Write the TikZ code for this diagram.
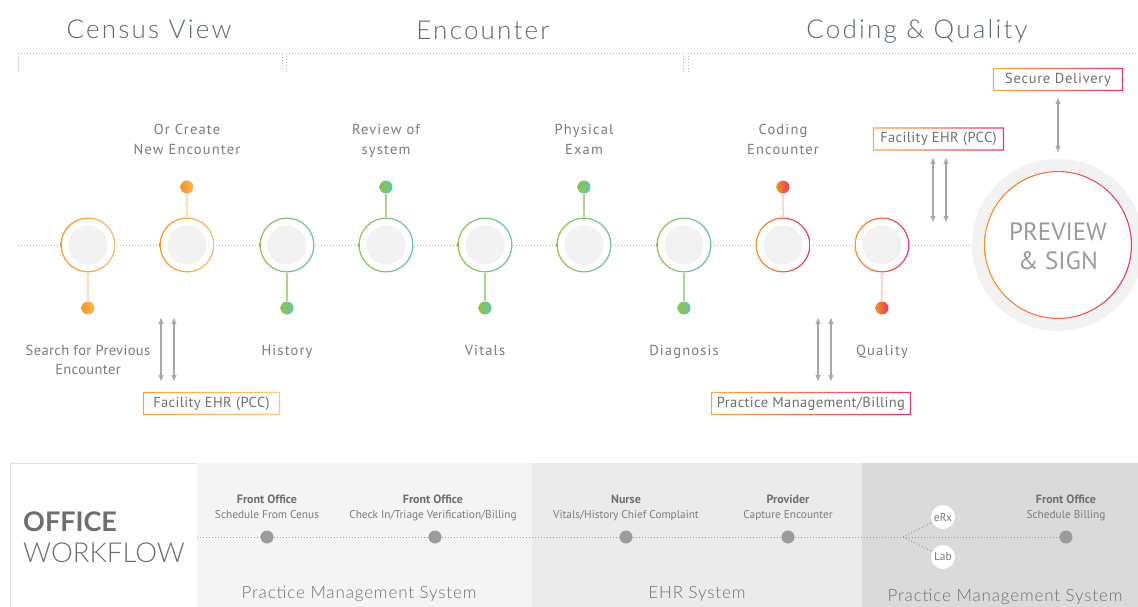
\documentclass[tikz,border=0pt]{standalone}
\usepackage{fontspec}
\setmainfont{PT Sans}
\newfontfamily\lightfont{Lato Light}
\newfontfamily\headfont{Lato Light}[LetterSpace=8.5]
\newfontfamily\sysfont{Lato Light}[LetterSpace=5]
\newfontfamily\boldhead{Lato Bold}
\newfontfamily\lblfont{PT Sans}[LetterSpace=8]
\newfontfamily\lblfontb{PT Sans}[LetterSpace=2.5]
\newfontfamily\boxfont{PT Sans}[LetterSpace=5]
\newfontfamily\boxfontn{PT Sans}[LetterSpace=2.5]
\usetikzlibrary{arrows.meta}
\definecolor{orA}{HTML}{F7941D}
\definecolor{orL}{HTML}{FBB866}
\definecolor{grA}{HTML}{8CC63F}
\definecolor{grB}{HTML}{62C3B4}
\definecolor{pkB}{HTML}{E8336B}
\definecolor{stemO}{HTML}{FCDDB8}
\definecolor{stemG}{HTML}{A8D68A}
\definecolor{stemP}{HTML}{FBD9C6}
\definecolor{txtc}{HTML}{7B7B7B}
\definecolor{headc}{HTML}{5A6A72}
\definecolor{dotc}{HTML}{B4B4B4}
\definecolor{innerc}{HTML}{F2F2F2}
\definecolor{arrc}{HTML}{A8A8A8}
\definecolor{boxtxt}{HTML}{6F6F6F}
\definecolor{pan2}{HTML}{F4F4F4}
\definecolor{pan3}{HTML}{EBEBEB}
\definecolor{pan4}{HTML}{DADADA}
\definecolor{gdot}{HTML}{9B9B9B}
\definecolor{wf}{HTML}{6E6E6E}
\begin{document}
\begin{tikzpicture}[x=1pt,y=-1pt,
  lbl/.style={text=txtc, font=\lblfont\fontsize{14.5}{19}\selectfont, inner sep=0, anchor=base},
  head/.style={text=headc, font=\headfont\fontsize{26}{30}\selectfont, inner sep=0, anchor=base},
  dline/.style={draw=dotc, line width=1pt, dash pattern=on 1pt off 2pt},
  stepnode/.style={circle, minimum size=55pt, inner sep=0, fill=white},
  dotnode/.style={circle, minimum size=13pt, inner sep=0},
  stemline/.style={line width=2pt},
  biarrow/.style={draw=arrc, line width=1.3pt, {Latex[length=7pt,width=5.5pt]}-{Latex[length=7pt,width=5.5pt]}},
  boxnode/.style={minimum height=23pt, inner sep=0, text=boxtxt, font=\boxfont\fontsize{14.5}{16}\selectfont},
  wfbold/.style={text=wf, font=\bfseries\fontsize{12}{13}\selectfont, inner sep=0, anchor=base},
  wfreg/.style={text=txtc, font=\fontsize{11.3}{13}\selectfont, inner sep=0, anchor=base},
  sysl/.style={text=wf, font=\sysfont\fontsize{17}{20}\selectfont, inner sep=0, anchor=base},
  gdotnode/.style={circle, fill=gdot, minimum size=13pt, inner sep=0},
  smallc/.style={circle, fill=white, minimum size=24pt, inner sep=0, text=txtc, font=\fontsize{11.5}{13}\selectfont}
]
\useasboundingbox (0,0) rectangle (1138,607);
\fill[white] (0,0) rectangle (1138,607);

% headings
\node[head] (h1) at (149,38.5) {Census View};
\node[head] (h2) at (483,39.5) {Encounter};
\node[head] (h3) at (917,38.5) {Coding \& Quality};
\draw[dline] (18,72) -- (18,54) -- (282,54) -- (282,72);
\draw[dline] (286,72) -- (286,54) -- (683,54) -- (683,72);
\draw[dline] (688,72) -- (688,54) -- (1138,54);

% big circle
\node[circle, minimum size=172pt, inner sep=0, fill=innerc] (ps) at (1058,245) {};
\fill[white] (ps.center) circle[radius=74];
\shade[even odd rule, left color=orA, right color=pkB] (ps.center) circle[radius=74] circle[radius=72.9];
\node[text=gdot, font=\fontsize{25}{29}\selectfont, align=center, inner sep=0] (pst) at (1058,246) {PREVIEW\\\& SIGN};

% timeline
\coordinate (t0) at (18,245);
\draw[dline] (t0) -- (ps.west);

% steps
\def\steps{1/88/308/orA/orL/stemO, 2/187/187/orA/orL/stemO, 3/287/308/grA/grB/stemG, 4/386/187/grA/grB/stemG, 5/485/308/grA/grB/stemG, 6/584/187/grA/grB/stemG, 7/684/308/grA/grB/stemG, 8/783/187/orA/pkB/stemP, 9/882/308/orA/pkB/stemP}
\foreach \i/\x/\dy/\ca/\cb/\cs in \steps {
  \node[stepnode] (s\i) at (\x,245) {};
  \shade[even odd rule, left color=\ca, right color=\cb] (s\i.center) circle[radius=27.5] circle[radius=26.3];
  \fill[innerc] (s\i.center) circle[radius=19.5];
  \node[dotnode] (d\i) at (\x,\dy) {};
  \draw[stemline, draw=\cs] (s\i) -- (d\i);
  \shade[left color=\ca, right color=\cb] (d\i.center) circle[radius=6.5];
}

% step labels
\node[lbl] (l2a) at (187,135) {Or Create};
\node[lbl] (l2b) at (187,154) {New Encounter};
\node[lbl] (l4a) at (386,135) {Review of};
\node[lbl] (l4b) at (386,154) {system};
\node[lbl] (l6a) at (584,135) {Physical};
\node[lbl] (l6b) at (584,154) {Exam};
\node[lbl] (l8a) at (783,135) {Coding};
\node[lbl] (l8b) at (783,154) {Encounter};
\node[lbl, font=\lblfontb\fontsize{14.5}{19}\selectfont] (l1a) at (88,355) {Search for Previous};
\node[lbl, font=\lblfontb\fontsize{14.5}{19}\selectfont] (l1b) at (88,374) {Encounter};
\node[lbl] (l3) at (287,355) {History};
\node[lbl] (l5) at (485,355) {Vitals};
\node[lbl] (l7) at (684,355) {Diagnosis};
\node[lbl] (l9) at (882,355) {Quality};

% boxes
\node[boxnode, minimum width=137pt, font=\boxfontn\fontsize{14.5}{16}\selectfont] (b1) at (211.5,403.5) {Facility EHR (PCC)};
\shade[even odd rule, left color=orA!85, right color=orL!80] (b1.south west) rectangle (b1.north east) ([xshift=1.3pt,yshift=1.3pt]b1.south west) rectangle ([xshift=-1.3pt,yshift=-1.3pt]b1.north east);
\node[boxnode, minimum width=200pt, font=\boxfontn\fontsize{14.5}{16}\selectfont] (b2) at (811,403.5) {Practice Management/Billing};
\shade[even odd rule, left color=orA!80, right color=pkB] (b2.south west) rectangle (b2.north east) ([xshift=1.3pt,yshift=1.3pt]b2.south west) rectangle ([xshift=-1.3pt,yshift=-1.3pt]b2.north east);
\node[boxnode, minimum width=131pt, font=\boxfontn\fontsize{14.5}{16}\selectfont] (b3) at (938.5,139) {Facility EHR (PCC)};
\shade[even odd rule, left color=orA!80, right color=pkB] (b3.south west) rectangle (b3.north east) ([xshift=1.3pt,yshift=1.3pt]b3.south west) rectangle ([xshift=-1.3pt,yshift=-1.3pt]b3.north east);
\node[boxnode, minimum width=130pt] (b4) at (1058,79.5) {Secure Delivery};
\shade[even odd rule, left color=orA!80, right color=pkB] (b4.south west) rectangle (b4.north east) ([xshift=1.3pt,yshift=1.3pt]b4.south west) rectangle ([xshift=-1.3pt,yshift=-1.3pt]b4.north east);

% arrows
\coordinate (a1t) at (161,317); \coordinate (a1b) at (161,382);
\coordinate (a2t) at (174,317); \coordinate (a2b) at (174,382);
\draw[biarrow] (a1t) -- (a1b);
\draw[biarrow] (a2t) -- (a2b);
\coordinate (a3t) at (818,317); \coordinate (a3b) at (818,382);
\coordinate (a4t) at (831,317); \coordinate (a4b) at (831,382);
\draw[biarrow] (a3t) -- (a3b);
\draw[biarrow] (a4t) -- (a4b);
\coordinate (a5t) at (933,157); \coordinate (a5b) at (933,223);
\coordinate (a6t) at (946,157); \coordinate (a6b) at (946,223);
\draw[biarrow] (a5t) -- (a5b);
\draw[biarrow] (a6t) -- (a6b);
\coordinate (a7t) at (1058,97); \coordinate (a7b) at (1058,153);
\draw[biarrow] (a7t) -- (a7b);

% office workflow panels
\fill[pan2] (197,463) rectangle (532,607);
\fill[pan3] (532,463) rectangle (862,607);
\fill[pan4] (862,463) rectangle (1138,607);
\draw[line width=1pt, draw=black!13] (10,610) -- (10,463) -- (197,463);
\node[anchor=base west, text=wf, font=\boldhead\fontsize{27}{30}\selectfont, inner sep=0] (off) at (23,531) {OFFICE};
\node[anchor=base west, text=wf, font=\lightfont\fontsize{27.5}{30}\selectfont, inner sep=0] (wfl) at (23,562) {WORKFLOW};

\coordinate (w0) at (197,537);
\node[gdotnode] (g1) at (267,537) {};
\node[gdotnode] (g2) at (435,537) {};
\node[gdotnode] (g3) at (626,537) {};
\node[gdotnode] (g4) at (788,537) {};
\node[gdotnode] (g5) at (1066,537) {};
\coordinate (br) at (903,537);
\draw[dline, draw=gdot] (w0) -- (g1) -- (g2) -- (g3) -- (g4) -- (g5);
\node[smallc] (erx) at (943,517) {eRx};
\node[smallc] (lab) at (943,557) {Lab};
\draw[dline, draw=gdot] (br) -- (erx);
\draw[dline, draw=gdot] (br) -- (lab);

\node[wfbold] (f1a) at (267,503) {Front Office};
\node[wfreg] (f1b) at (267,518) {Schedule From Cenus};
\node[wfbold] (f2a) at (433,503) {Front Office};
\node[wfreg] (f2b) at (433,518) {Check In/Triage Verification/Billing};
\node[wfbold] (f3a) at (626,503) {Nurse};
\node[wfreg] (f3b) at (626,518) {Vitals/History Chief Complaint};
\node[wfbold] (f4a) at (788,503) {Provider};
\node[wfreg] (f4b) at (788,518) {Capture Encounter};
\node[wfbold] (f5a) at (1066,503) {Front Office};
\node[wfreg] (f5b) at (1066,518) {Schedule Billing};

\node[sysl] (p1) at (359,598) {Practice Management System};
\node[sysl] (p2) at (697,598) {EHR System};
\node[sysl] (p3) at (1005,601) {Practice Management System};
\end{tikzpicture}
\end{document}
